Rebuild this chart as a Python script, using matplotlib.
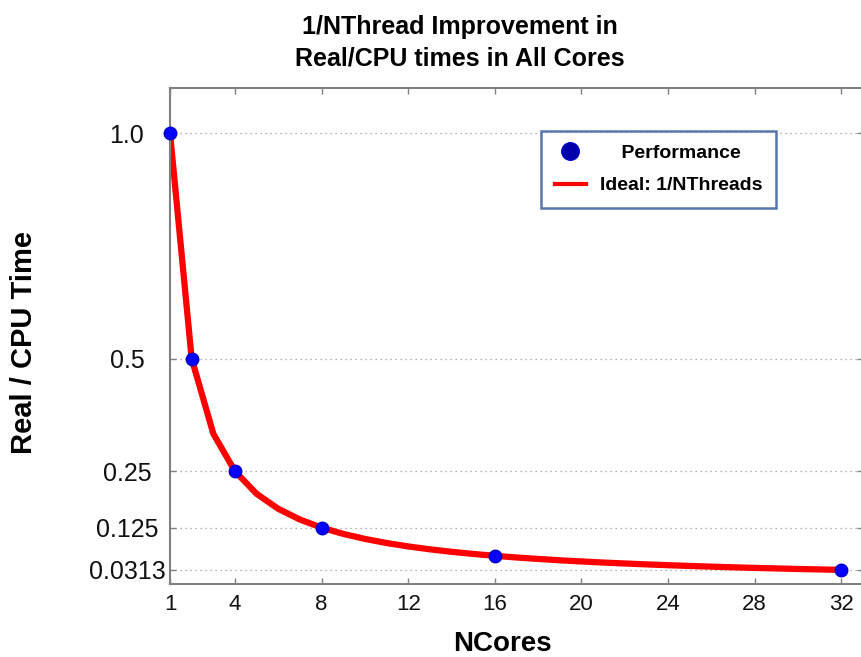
import matplotlib
matplotlib.use('Agg')
import matplotlib.pyplot as plt

plt.rcParams['font.family'] = ['Liberation Sans', 'DejaVu Sans']

# measured speedup points
cores = [1, 2, 4, 8, 16, 32]
real_cpu = [1.0, 0.5, 0.25, 0.125, 0.0625, 0.03125]

# ideal curve 1/N at every thread count
ideal_n = list(range(1, 33))
ideal_t = [1.0, 0.5, 0.3333, 0.25, 0.2, 0.1667, 0.1429, 0.125,
           0.1111, 0.1, 0.0909, 0.0833, 0.0769, 0.0714, 0.0667, 0.0625,
           0.0588, 0.0556, 0.0526, 0.05, 0.0476, 0.0455, 0.0435, 0.0417,
           0.04, 0.0385, 0.037, 0.0357, 0.0345, 0.0333, 0.0323, 0.03125]

x_ticks = [1, 4, 8, 12, 16, 20, 24, 28, 32]
y_ticks = [1.0, 0.5, 0.25, 0.125, 0.03125]
y_tick_labels = ['1.0', '0.5', '0.25', '0.125', '0.0313']

fig = plt.figure(figsize=(8.61, 6.57), dpi=100)
ax = fig.add_axes([170 / 861, 1 - 584 / 657, 693 / 861, 496 / 657])

ax.plot(ideal_n, ideal_t, color='#ff0000', lw=4.5, solid_joinstyle='miter',
        zorder=2, label='Ideal: 1/NThreads')
ax.plot(cores, real_cpu, 'o', color='#0000ff', mec='#0000cc', ms=9,
        zorder=3, clip_on=False, label='    Performance')

ax.set_xlim(1, 33)
ax.set_ylim(0, 1.1)
ax.set_xticks(x_ticks)
ax.set_yticks(y_ticks)
ax.set_yticklabels(y_tick_labels)
ax.grid(axis='y', linestyle=(0, (1, 3)), color='#999999', lw=0.9)

for s in ax.spines.values():
    s.set_color('#808080')
    s.set_linewidth(1.5)

ax.tick_params(axis='x', direction='in', top=True, length=4, width=1,
               color='#808080', labelsize=16, pad=7, labelcolor='#111111')
ax.tick_params(axis='y', direction='in', right=True, length=4, width=1,
               color='#808080', labelsize=18, pad=31, labelcolor='#111111')
for t in ax.get_yticklabels():
    t.set_ha('center')

# legend: dot first, then the red line
h, l = ax.get_legend_handles_labels()
leg = ax.legend([h[1], h[0]], [l[1], l[0]], loc='upper left',
                bbox_to_anchor=(371 / 693, 1 - 43 / 496),
                prop={'weight': 'bold', 'size': 14},
                handlelength=1.6, handletextpad=0.75, labelspacing=0.75,
                borderpad=0.7, borderaxespad=0, fancybox=False,
                markerscale=1.4)
leg.get_frame().set_edgecolor('#2f5597')
leg.get_frame().set_linewidth(1.8)
leg.legend_handles[0].set_color('#0000aa')
leg.legend_handles[1].set_linewidth(3)

fig.text(0.534, 0.977, '1/NThread Improvement in\nReal/CPU times in All Cores',
         ha='center', va='top', fontsize=18, fontweight='bold',
         linespacing=1.4)
fig.text(24 / 861, 1 - 342 / 657, 'Real / CPU Time', rotation=90,
         ha='center', va='center', fontsize=21, fontweight='bold')
fig.text(502 / 861, 1 - 644 / 657, 'NCores', ha='center', va='center',
         fontsize=20, fontweight='bold')

fig.savefig('out.png', dpi=100)
